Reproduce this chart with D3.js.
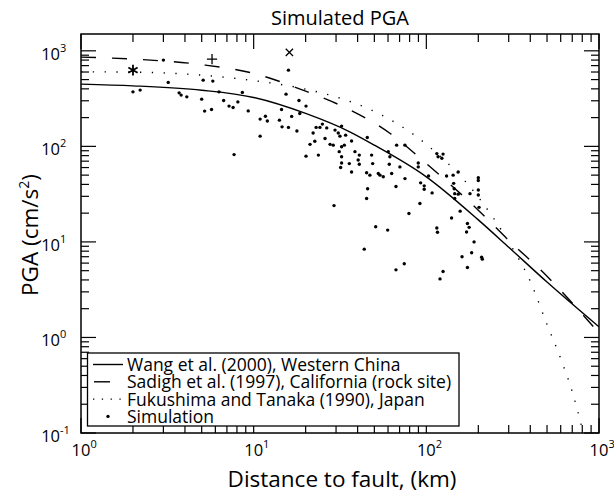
<!DOCTYPE html>
<html>
<head>
<meta charset="utf-8">
<script src="https://cdn.jsdelivr.net/npm/d3@7"></script>
<style>
  body { margin: 0; background: #fff; }
  text { font-family: "Open Sans", sans-serif; fill: #000; }
</style>
</head>
<body>
<div id="chart"></div>
<script>
const width = 614, height = 496;
const plotLeft = 81, plotRight = 599, plotTop = 34, plotBottom = 433;

// attenuation curves (distance km, PGA cm/s^2)
const wangDist = [1, 2, 5, 10, 20, 36, 50, 100, 200, 300, 500, 1000];
const wangPga  = [448, 430, 387, 325, 221, 142, 103, 48, 17, 8.8, 3.8, 1.29];

const sadighDist = [1, 2, 5, 10, 20, 31.6, 61.5, 100, 200, 300, 500, 1000];
const sadighPga  = [860, 819, 717, 580, 378, 270, 137, 66, 21.5, 10.4, 4.37, 1.11];

const fukuDist = [1, 2, 5, 10, 20, 31.6, 48, 100, 200, 300, 400, 500, 600, 700, 800, 850];
const fukuPga  = [603, 599, 556, 488, 397, 320, 240, 105, 29.4, 10, 3.87, 1.37, 0.6, 0.27, 0.11, 0.07];

// simulated stations
const simDist = [3.0, 2.0, 2.2, 3.2, 3.7, 3.8, 4.1, 5.1, 5.8, 5.0, 6.3, 5.2, 5.7, 6.7, 7.2, 7.6, 8.1, 8.6, 9.3, 7.7,
  10.9, 11.7, 12.0, 10.9, 14.1, 14.6, 15.9, 14.5, 15.4, 15.9, 16.6, 17.8, 18.3, 18.5, 20.1, 20.1, 21.2, 22.1, 22.6, 23.0,
  23.7, 24.2, 25.0, 25.9, 26.5, 27.7, 28.9, 29.6, 30.9, 31.6, 32.3, 31.3, 32.3, 33.5, 34.1, 32.3, 32.3, 31.9, 35.8, 29.2,
  36.9, 36.9, 38.6, 40.9, 40.3, 40.9, 45.5, 48.2, 48.9, 45.1, 47.1, 53.9, 52.7, 56.3, 60.2, 61.5, 61.0, 63.0, 67.3, 75.2,
  70.3, 75.2, 89.8, 89.8, 103, 115, 117, 123, 125, 131, 143, 153, 200,
  45.7, 45.1, 66.7, 50.9, 59.7, 43.7, 79.3, 66.7, 74.5, 92.7, 97.2, 97.2, 91.8, 108, 115, 116,
  144, 145, 146, 153, 146, 157, 140, 125, 120, 179, 200, 200, 200, 202, 173, 177, 171, 189, 183, 161, 173, 209, 211];
const simPga = [800, 372, 388, 467, 363, 344, 330, 493, 482, 312, 372, 234, 243, 302, 264, 255, 292, 367, 235, 82,
  193, 207, 184, 128, 188, 160, 158, 243, 352, 628, 206, 145, 302, 221, 264, 79, 105, 138, 113, 158,
  81, 158, 171, 121, 156, 105, 103, 148, 138, 128, 163, 88, 99, 103, 131, 78, 67, 60, 66, 24,
  114, 54, 88, 81, 72, 65, 124, 81, 66, 53, 50, 50, 52, 48, 88, 78, 65, 52, 103, 103,
  61, 46, 67, 61, 49, 84, 78, 75, 83, 49, 50, 54, 47,
  36, 28.5, 38, 14.4, 13.3, 8.4, 19.8, 5.1, 5.9, 41.5, 38.6, 35.6, 25.2, 32.6, 14.0, 12.6,
  41, 36, 32, 31.6, 28.5, 21, 17.8, 4.9, 4.1, 32, 44, 35, 31, 23, 15.6, 14.2, 12.7, 10, 7.7, 7.0, 5.4, 6.9, 6.6];

// recorded stations shown with their own markers
const recDist = [2.0, 5.74, 16.1];
const recPga = [628, 819, 962];
const recMark = ["asterisk", "plus", "times"];

const legendLabels = ["Wang et al. (2000), Western China",
  "Sadigh et al. (1997), California (rock site)",
  "Fukushima and Tanaka (1990), Japan",
  "Simulation"];

const xTicks = [1, 10, 100, 1000];
const yTicks = [0.1, 1, 10, 100, 1000];
const tickExp = ["-1", "0", "1", "2", "3"];

const svg = d3.select("#chart").append("svg")
  .attr("width", width).attr("height", height)
  .attr("viewBox", [0, 0, width, height]);

const x = d3.scaleLog().domain([1, 1000]).range([plotLeft, plotRight]);
const y = d3.scaleLog().domain([0.1, 1500]).range([plotBottom, plotTop]);

svg.append("clipPath").attr("id", "clip")
  .append("rect").attr("x", plotLeft).attr("y", plotTop)
  .attr("width", plotRight - plotLeft).attr("height", plotBottom - plotTop);

// minor + major ticks, inward on all four sides
function logTicks(domain) {
  const out = [];
  for (let k = -2; k <= 3; k++) {
    for (let m = 1; m <= 9; m++) {
      const v = m * Math.pow(10, k);
      if (v >= domain[0] * 0.999 && v <= domain[1] * 1.001) out.push({v: v, major: m === 1});
    }
  }
  return out;
}
const ticks = svg.append("g").attr("stroke", "#000").attr("stroke-width", 1.2);
logTicks(x.domain()).forEach(t => {
  const len = t.major ? 15 : 8;
  const px = x(t.v);
  ticks.append("line").attr("x1", px).attr("x2", px).attr("y1", plotBottom).attr("y2", plotBottom - len);
  ticks.append("line").attr("x1", px).attr("x2", px).attr("y1", plotTop).attr("y2", plotTop + len);
});
logTicks(y.domain()).forEach(t => {
  const len = t.major ? 15 : 8;
  const py = y(t.v);
  ticks.append("line").attr("y1", py).attr("y2", py).attr("x1", plotLeft).attr("x2", plotLeft + len);
  ticks.append("line").attr("y1", py).attr("y2", py).attr("x1", plotRight).attr("x2", plotRight - len);
});

// curves
const line = d3.line()
  .x(d => x(d[0])).y(d => y(d[1]))
  .curve(d3.curveMonotoneX);
const plot = svg.append("g").attr("clip-path", "url(#clip)");

plot.append("path").datum(d3.zip(wangDist, wangPga))
  .attr("d", line).attr("fill", "none").attr("stroke", "#000").attr("stroke-width", 1.4);
plot.append("path").datum(d3.zip(sadighDist, sadighPga))
  .attr("d", line).attr("fill", "none").attr("stroke", "#000").attr("stroke-width", 1.4)
  .attr("stroke-dasharray", "15,16");
plot.append("path").datum(d3.zip(fukuDist, fukuPga))
  .attr("d", line).attr("fill", "none").attr("stroke", "#000").attr("stroke-width", 1.4)
  .attr("stroke-dasharray", "1.3,10.5");

plot.selectAll(".sim")
  .data(d3.zip(simDist, simPga))
  .enter().append("circle")
  .attr("class", "sim")
  .attr("cx", d => x(d[0]))
  .attr("cy", d => y(d[1]))
  .attr("r", 1.7)
  .attr("fill", "#000");

const symbolOf = {
  asterisk: [d3.symbolAsterisk || d3.symbolCross, 80],
  plus: [d3.symbolPlus || d3.symbolCross, 36],
  times: [d3.symbolTimes || d3.symbolX || d3.symbolCross, 36]
};
plot.selectAll(".rec")
  .data(d3.zip(recDist, recPga, recMark))
  .enter().append("path")
  .attr("class", "rec")
  .attr("transform", d => `translate(${x(d[0])},${y(d[1])})`)
  .attr("d", d => d3.symbol().type(symbolOf[d[2]][0]).size(symbolOf[d[2]][1])())
  .attr("fill", "none").attr("stroke", "#000")
  .attr("stroke-width", d => d[2] === "asterisk" ? 1.8 : 1.3);

// frame
svg.append("rect").attr("x", plotLeft).attr("y", plotTop)
  .attr("width", plotRight - plotLeft).attr("height", plotBottom - plotTop)
  .attr("fill", "none").attr("stroke", "#000").attr("stroke-width", 1.5);

// tick labels: "10" with a superscript exponent
function powerLabel(xPos, yPos, exp, align) {
  const t = svg.append("text").attr("y", yPos).attr("font-size", 16.5);
  t.append("tspan").text("10");
  t.append("tspan").attr("dy", -8).attr("font-size", 11).text(exp);
  const w = t.node().getSubStringLength(0, 2);
  t.attr("x", align === "center" ? xPos - w / 2 : xPos - w);
}
xTicks.forEach((v, i) => powerLabel(x(v), 456, tickExp[i + 1], "center"));
yTicks.forEach((v, i) => powerLabel(60, y(v) + 9, tickExp[i], "right"));

// titles
svg.append("text").attr("x", 340).attr("y", 25).attr("text-anchor", "middle")
  .attr("font-size", 20).text("Simulated PGA");
svg.append("text").attr("x", 342).attr("y", 487).attr("text-anchor", "middle")
  .attr("font-size", 22.5).text("Distance to fault, (km)");
const yl = svg.append("text").attr("transform", "translate(38,235) rotate(-90)")
  .attr("text-anchor", "middle").attr("font-size", 22.5);
yl.append("tspan").text("PGA (cm/s");
yl.append("tspan").attr("dy", -9).attr("font-size", 14).text("2");
yl.append("tspan").attr("dy", 9).text(")");

// legend
const lg = svg.append("g");
lg.append("rect").attr("x", 87.5).attr("y", 353).attr("width", 371.5).attr("height", 73)
  .attr("fill", "#fff").attr("stroke", "#000").attr("stroke-width", 1.3);
const rows = [364.5, 381.8, 399.1, 416.4];
lg.append("line").attr("x1", 93).attr("x2", 123).attr("y1", rows[0]).attr("y2", rows[0])
  .attr("stroke", "#000").attr("stroke-width", 1.4);
lg.append("line").attr("x1", 94).attr("x2", 110).attr("y1", rows[1]).attr("y2", rows[1])
  .attr("stroke", "#000").attr("stroke-width", 1.4);
lg.append("line").attr("x1", 93).attr("x2", 123).attr("y1", rows[2]).attr("y2", rows[2])
  .attr("stroke", "#000").attr("stroke-width", 1.4).attr("stroke-dasharray", "1.3,7.5");
lg.append("circle").attr("cx", 108).attr("cy", rows[3]).attr("r", 1.7).attr("fill", "#000");
legendLabels.forEach((t, i) => {
  lg.append("text").attr("x", 127).attr("y", rows[i] + 6.5).attr("font-size", 17.5).text(t);
});
</script>
</body>
</html>
